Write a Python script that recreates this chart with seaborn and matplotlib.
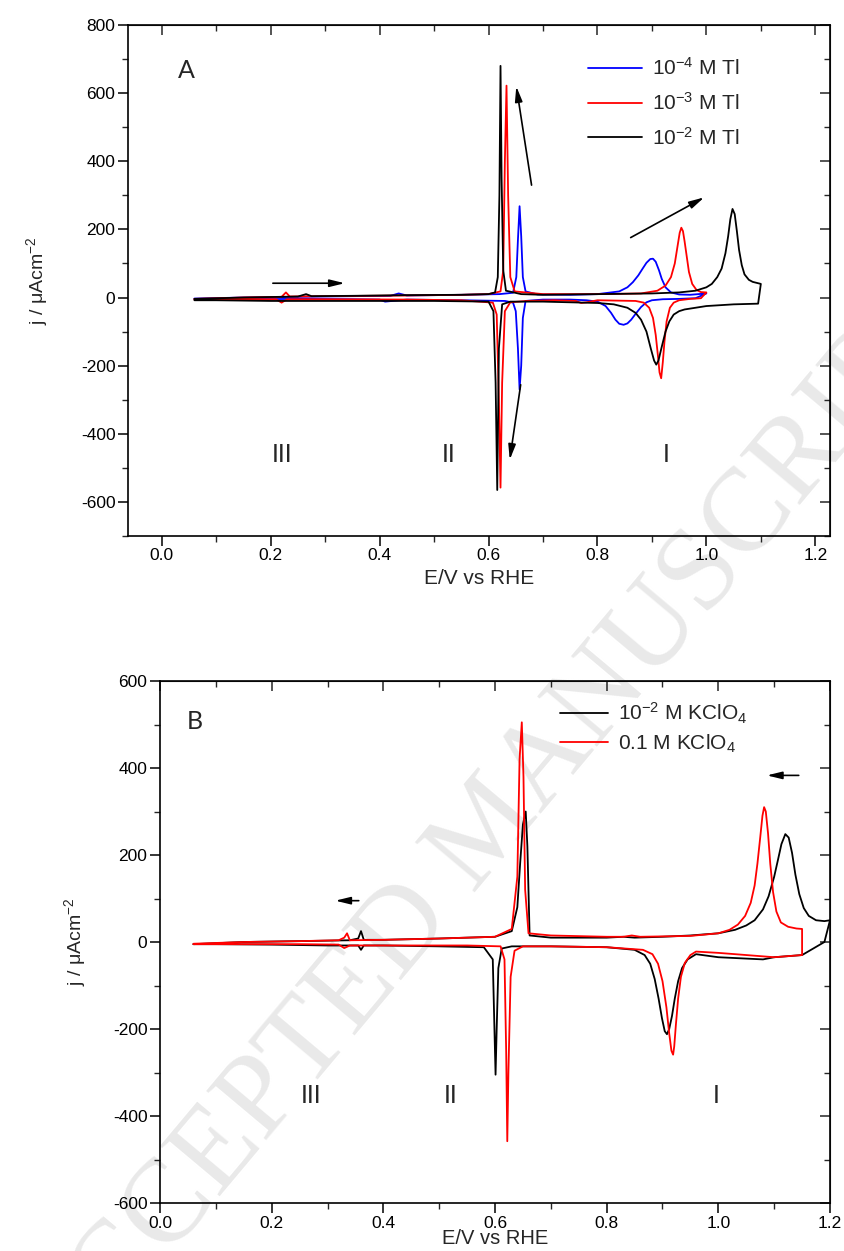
import matplotlib.pyplot as plt
import matplotlib.ticker as mtick
import seaborn as sns

sns.set_style("ticks")
plt.rcParams["font.family"] = ["Liberation Sans", "DejaVu Sans"]
plt.rcParams["mathtext.fontset"] = "custom"
plt.rcParams["mathtext.rm"] = "Liberation Sans"
plt.rcParams["mathtext.it"] = "Liberation Sans:italic"
plt.rcParams["mathtext.default"] = "regular"
plt.rcParams["axes.unicode_minus"] = False

# ---- panel A: Tl concentration series (anodic sweep, then cathodic sweep) ----
A_BLUE_E = [0.06, 0.15, 0.25, 0.35, 0.42, 0.435, 0.45, 0.55, 0.62, 0.645, 0.651, 0.654, 0.657, 0.660, 0.663,
            0.668, 0.69, 0.75, 0.80, 0.84, 0.855, 0.865, 0.875, 0.883, 0.89, 0.897, 0.902, 0.907, 0.913, 0.918,
            0.925, 0.935, 0.95, 0.97, 1.0,
            1.0, 0.98, 0.95, 0.92, 0.90, 0.89, 0.88, 0.87, 0.862, 0.855, 0.848, 0.84, 0.833, 0.825, 0.815,
            0.80, 0.78, 0.75, 0.70, 0.668, 0.663, 0.660, 0.657, 0.654, 0.650, 0.645, 0.63, 0.55, 0.45, 0.41,
            0.40, 0.35, 0.25, 0.15, 0.06]
A_BLUE_J = [-3, 0, 2, 4, 5, 12, 6, 8, 10, 14, 60, 170, 268, 180, 60,
            18, 9, 8, 10, 18, 30, 45, 65, 85, 102, 113, 114, 105, 80, 55,
            30, 15, 9, 8, 12,
            12, -2, -4, -5, -8, -14, -28, -48, -65, -76, -80, -77, -65, -45, -25,
            -12, -8, -6, -6, -10, -60, -200, -270, -150, -40, -15, -10, -8, -6, -12,
            -6, -5, -4, -5, -5]

A_RED_E = [0.06, 0.15, 0.22, 0.228, 0.235, 0.30, 0.45, 0.55, 0.60, 0.622, 0.627, 0.630, 0.633, 0.636, 0.640,
           0.648, 0.70, 0.80, 0.88, 0.91, 0.925, 0.935, 0.942, 0.947, 0.951, 0.954, 0.957, 0.960, 0.964, 0.968,
           0.974, 0.982, 0.99, 1.0,
           1.0, 0.99, 0.97, 0.95, 0.94, 0.933, 0.927, 0.923, 0.920, 0.917, 0.914, 0.911, 0.907, 0.902, 0.895,
           0.885, 0.87, 0.80, 0.78, 0.77, 0.76, 0.72, 0.67, 0.64, 0.630, 0.625, 0.622, 0.619, 0.615, 0.608,
           0.55, 0.45, 0.30, 0.23, 0.22, 0.21, 0.15, 0.06]
A_RED_J = [-4, 0, 2, 15, 3, 4, 6, 8, 10, 18, 80, 400, 622, 300, 60,
           18, 10, 10, 12, 20, 35, 60, 100, 150, 190, 205, 195, 165, 120, 75,
           40, 22, 16, 15,
           15, -2, -4, -8, -15, -30, -70, -130, -190, -237, -220, -170, -110, -60, -30,
           -15, -10, -8, -14, -16, -10, -8, -10, -14, -40, -250, -558, -300, -50, -15,
           -8, -6, -5, -5, -15, -5, -5, -6]

A_BLACK_E = [0.06, 0.15, 0.25, 0.265, 0.275, 0.35, 0.45, 0.55, 0.60, 0.612, 0.617, 0.620, 0.622, 0.624, 0.627,
             0.632, 0.66, 0.70, 0.80, 0.90, 0.95, 0.98, 1.00, 1.01, 1.02, 1.028, 1.035, 1.04, 1.044, 1.048,
             1.052, 1.056, 1.06, 1.065, 1.07, 1.078, 1.085, 1.095, 1.1,
             1.1, 1.095, 1.05, 1.0, 0.96, 0.95, 0.94, 0.932, 0.925, 0.918, 0.912, 0.908, 0.904, 0.898, 0.89,
             0.88, 0.87, 0.855, 0.83, 0.80, 0.70, 0.64, 0.625, 0.619, 0.616, 0.613, 0.609, 0.60, 0.50, 0.40,
             0.30, 0.27, 0.20, 0.10, 0.06]
A_BLACK_J = [-4, 0, 3, 10, 4, 5, 7, 8, 10, 15, 60, 300, 680, 350, 80,
             20, 10, 8, 10, 12, 15, 20, 30, 40, 60, 85, 130, 180, 230, 260,
             245, 195, 140, 95, 68, 52, 46, 42, 40,
             40, -18, -20, -25, -35, -40, -50, -70, -100, -145, -185, -197, -185, -150, -100,
             -65, -45, -30, -20, -16, -12, -12, -20, -150, -565, -250, -40, -12, -10, -10,
             -10, -10, -10, -8, -8]

A_LABELS = ["10$^{-4}$ M Tl", "10$^{-3}$ M Tl", "10$^{-2}$ M Tl"]

# ---- panel B: KClO4 concentration series ----
B_BLACK_E = [0.06, 0.15, 0.25, 0.34, 0.355, 0.36, 0.365, 0.40, 0.50, 0.60, 0.63, 0.64, 0.645, 0.65, 0.655,
             0.658, 0.662, 0.70, 0.80, 0.83, 0.85, 0.90, 0.95, 1.0, 1.03, 1.05, 1.065, 1.08, 1.09, 1.10,
             1.107, 1.113, 1.12, 1.126, 1.132, 1.138, 1.145, 1.153, 1.162, 1.175, 1.19, 1.2,
             1.2, 1.19, 1.15, 1.10, 1.08, 1.0, 0.96, 0.945, 0.935, 0.928, 0.922, 0.917, 0.912, 0.908, 0.904,
             0.899, 0.893, 0.886, 0.878, 0.868, 0.85, 0.80, 0.70, 0.63, 0.612, 0.606, 0.603, 0.601, 0.599,
             0.596, 0.58, 0.50, 0.40, 0.365, 0.36, 0.355, 0.30, 0.20, 0.10, 0.06]
B_BLACK_J = [-5, 0, 2, 4, 8, 25, 5, 5, 8, 12, 25, 80, 180, 270, 300,
             220, 15, 10, 10, 12, 10, 12, 15, 20, 28, 38, 50, 75, 105, 150,
             190, 225, 248, 240, 205, 155, 110, 78, 60, 50, 48, 50,
             50, 0, -30, -35, -40, -35, -28, -40, -60, -90, -130, -170, -200, -212, -205,
             -175, -130, -85, -50, -30, -18, -12, -10, -10, -15, -60, -200, -305, -200,
             -40, -12, -10, -8, -8, -18, -8, -8, -6, -5, -5]

B_RED_E = [0.06, 0.15, 0.25, 0.32, 0.33, 0.335, 0.34, 0.40, 0.50, 0.60, 0.63, 0.64, 0.644, 0.648, 0.651,
           0.654, 0.66, 0.70, 0.80, 0.83, 0.845, 0.86, 0.95, 1.0, 1.02, 1.035, 1.048, 1.058, 1.065, 1.07,
           1.075, 1.079, 1.082, 1.085, 1.089, 1.093, 1.098, 1.104, 1.112, 1.125, 1.14, 1.15,
           1.15, 1.10, 1.05, 1.0, 0.96, 0.95, 0.94, 0.933, 0.928, 0.924, 0.921, 0.919, 0.916, 0.912, 0.907,
           0.90, 0.892, 0.882, 0.865, 0.80, 0.70, 0.65, 0.635, 0.628, 0.624, 0.622, 0.620, 0.617, 0.61, 0.55,
           0.45, 0.34, 0.33, 0.32, 0.25, 0.15, 0.06]
B_RED_J = [-4, 0, 2, 4, 10, 20, 4, 5, 8, 12, 30, 150, 420, 505, 380,
           120, 20, 15, 12, 12, 15, 12, 14, 20, 28, 40, 60, 90, 130, 180,
           240, 290, 310, 300, 250, 180, 115, 70, 45, 35, 31, 30,
           -30, -35, -30, -25, -22, -30, -48, -80, -130, -190, -240, -259, -250, -210, -150,
           -90, -50, -28, -18, -12, -10, -10, -20, -80, -300, -458, -250, -40, -10, -8,
           -8, -8, -14, -6, -5, -5, -5]

B_LABELS = ["10$^{-2}$ M KClO$_4$", "0.1 M KClO$_4$"]

FIG_W, FIG_H = 845, 1251


def _frame(ax, xmajor, ymajor):
    ax.set_facecolor("none")
    for spine in ax.spines.values():
        spine.set_visible(True)
        spine.set_linewidth(1.2)
        spine.set_color("black")
    ax.xaxis.set_major_locator(mtick.MultipleLocator(xmajor))
    ax.xaxis.set_minor_locator(mtick.MultipleLocator(xmajor / 2))
    ax.yaxis.set_major_locator(mtick.MultipleLocator(ymajor))
    ax.yaxis.set_minor_locator(mtick.MultipleLocator(ymajor / 2))
    ax.xaxis.set_major_formatter(mtick.FormatStrFormatter("%.1f"))
    ax.tick_params(which="major", direction="out", length=7, width=1.1, labelsize=12.5, colors="black", pad=2)
    ax.tick_params(which="minor", direction="out", length=4, width=1.0)
    # mirrored ticks on top/right pointing into the plot
    top = ax.secondary_xaxis("top")
    top.xaxis.set_major_locator(mtick.MultipleLocator(xmajor))
    top.xaxis.set_minor_locator(mtick.MultipleLocator(xmajor / 2))
    top.tick_params(which="major", direction="in", length=7, width=1.1, labeltop=False)
    top.tick_params(which="minor", direction="in", length=4, width=1.0)
    right = ax.secondary_yaxis("right")
    right.yaxis.set_major_locator(mtick.MultipleLocator(ymajor))
    right.yaxis.set_minor_locator(mtick.MultipleLocator(ymajor / 2))
    right.tick_params(which="major", direction="in", length=7, width=1.1, labelright=False)
    right.tick_params(which="minor", direction="in", length=4, width=1.0)


def _arrow(ax, start, end):
    ax.annotate("", xy=end, xytext=start,
                arrowprops=dict(arrowstyle="-|>,head_length=0.9,head_width=0.22", color="black",
                                lw=1.2, shrinkA=0, shrinkB=0))


fig = plt.figure(figsize=(FIG_W / 100, FIG_H / 100), dpi=100)

# watermark behind both panels
fig.text(0.58, 0.337, "ACCEPTED MANUSCRIPT", fontsize=85, family="Liberation Serif", color="#e9e9e9",
         rotation=50, ha="center", va="center", rotation_mode="anchor", zorder=-5)

ax1 = fig.add_axes([128 / FIG_W, 1 - 536 / FIG_H, (830 - 128) / FIG_W, (536 - 25) / FIG_H])
ax2 = fig.add_axes([160 / FIG_W, 1 - 1203 / FIG_H, (830 - 160) / FIG_W, (1203 - 681) / FIG_H])

for e, j, c, lab in [(A_BLUE_E, A_BLUE_J, "#0000ff", A_LABELS[0]),
                     (A_RED_E, A_RED_J, "#ff0000", A_LABELS[1]),
                     (A_BLACK_E, A_BLACK_J, "black", A_LABELS[2])]:
    sns.lineplot(x=e, y=j, sort=False, estimator=None, color=c, lw=1.3, label=lab, ax=ax1)

ax1.set_xlim(-0.062, 1.227)
ax1.set_ylim(-700, 800)
_frame(ax1, 0.2, 200)
ax1.set_xlabel("E/V vs RHE", fontsize=15, labelpad=4)
ax1.set_ylabel("j / μAcm$^{-2}$", fontsize=14, labelpad=22)
ax1.legend(loc="upper left", bbox_to_anchor=(0.655, 0.937), frameon=False, fontsize=15,
           handlelength=2.6, handletextpad=0.5, labelspacing=0.62, borderpad=0, borderaxespad=0)
ax1.text(0.046, 665, "A", fontsize=18, family="Lato", ha="center", va="center")
for x, s in [(0.22, "III"), (0.527, "II"), (0.927, "I")]:
    ax1.text(x, -462, s, fontsize=18, family="Lato", ha="center", va="center")
_arrow(ax1, (0.204, 42), (0.336, 42))
_arrow(ax1, (0.679, 330), (0.651, 620))
_arrow(ax1, (0.659, -256), (0.639, -476))
_arrow(ax1, (0.861, 176), (0.996, 294))

for e, j, c, lab in [(B_BLACK_E, B_BLACK_J, "black", B_LABELS[0]),
                     (B_RED_E, B_RED_J, "#ff0000", B_LABELS[1])]:
    sns.lineplot(x=e, y=j, sort=False, estimator=None, color=c, lw=1.3, label=lab, ax=ax2)

ax2.set_xlim(0, 1.2)
ax2.set_ylim(-600, 600)
_frame(ax2, 0.2, 200)
ax2.set_xlabel("E/V vs RHE", fontsize=14.5, labelpad=-1)
ax2.set_ylabel("$j$ / μAcm$^{-2}$", fontsize=14, labelpad=18)
ax2.legend(loc="upper left", bbox_to_anchor=(0.597, 0.962), frameon=False, fontsize=15,
           handlelength=2.3, handletextpad=0.5, labelspacing=0.3, borderpad=0, borderaxespad=0)
ax2.text(0.063, 507, "B", fontsize=18, family="Lato", ha="center", va="center")
for x, s in [(0.27, "III"), (0.52, "II"), (0.997, "I")]:
    ax2.text(x, -352, s, fontsize=18, family="Lato", ha="center", va="center")
_arrow(ax2, (0.356, 95), (0.314, 95))
_arrow(ax2, (1.144, 383), (1.087, 383))

fig.savefig("out.png", dpi=100)
plt.close(fig)
